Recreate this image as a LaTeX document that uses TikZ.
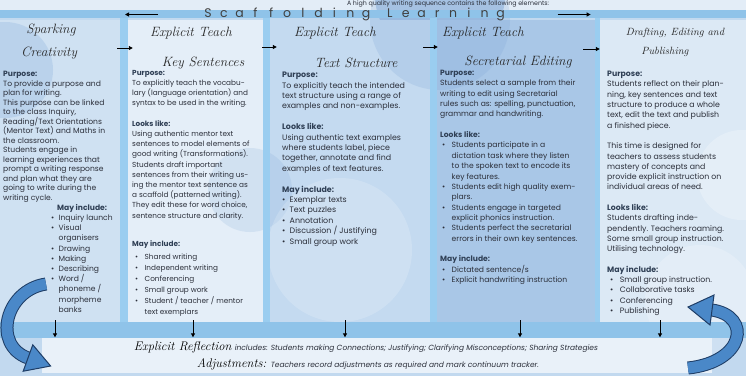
\documentclass[tikz,border=0pt]{standalone}
\usepackage{fontspec}
\setsansfont{Poppins}
\usetikzlibrary{arrows.meta}
\definecolor{bgA}{HTML}{C2D9EF}
\definecolor{bgB}{HTML}{7FA7D6}
\definecolor{colA}{HTML}{CFE1F2}
\definecolor{colB}{HTML}{E4EEF8}
\definecolor{colC}{HTML}{C4DAF0}
\definecolor{colD}{HTML}{A9C7E7}
\definecolor{colE}{HTML}{DCE9F5}
\definecolor{strip}{HTML}{9ACDF0}
\definecolor{band}{HTML}{8FC3E9}
\definecolor{boxw}{HTML}{E9F1F9}
\definecolor{txt}{HTML}{2B2F3A}
\definecolor{hdr}{HTML}{2F3F55}
\definecolor{arB}{HTML}{4A88C8}
\definecolor{arD}{HTML}{1E3D66}
\newcommand\bl[1][0pt]{\hspace*{#1}\makebox[7.5pt][l]{\textbullet}}
\newcommand\bi[1][0pt]{\hspace*{\dimexpr #1+7.5pt\relax}}
\newcommand\hd[1]{\textbf{\color{hdr}#1}}
\newcommand\ttlf{\rmfamily\itshape}
\newcommand\ls[1]{\makebox[15.8pt]{#1}}
\begin{document}
\begin{tikzpicture}[x=1pt,y=-1pt,
  colbox/.style={draw=none, inner sep=0pt, minimum height=303pt},
  body/.style={anchor=north west, align=left, inner sep=0pt, text=txt},
  ttl/.style={font=\ttlf\fontsize{13.5}{14}\selectfont, inner sep=0pt, text=black!85},
  flow/.style={-{Triangle[length=4pt,width=4pt]}, line width=1pt, black},
]
\useasboundingbox (0,0) rectangle (746,376);
\fill[bgA] (0,0) rectangle (746,376);
\fill[white, opacity=.55] (0,0) rectangle (746,10);
\fill[bgB, opacity=.5] (440,-5) circle (65);
% columns
\node[colbox, fill=colA, minimum width=120pt] (c1) at (60,171.5) {};
\node[colbox, fill=colB, minimum width=135pt] (c2) at (195.5,171.5) {};
\node[colbox, fill=colC, minimum width=160pt] (c3) at (350,171.5) {};
\node[colbox, fill=colD, minimum width=158pt] (c4) at (516,171.5) {};
\node[colbox, fill=colE, minimum width=146pt] (c5) at (673,171.5) {};
% washes
\begin{scope}
\clip (0,20) rectangle (120,323);
\fill[colD, opacity=.55] (5,70) circle (48);
\end{scope}
\fill[bgB, opacity=.18] (250,190) circle (42);
\fill[white, opacity=.18] (340,250) circle (72);
\fill[bgB, opacity=.22] (440,20) circle (70);
\fill[white, opacity=.25] (742,175) circle (45);
\fill[white, opacity=.2] (700,300) circle (55);
% strips and bands
\fill[strip] (120,18) rectangle (128,330);
\fill[strip] (263,18) rectangle (270,330);
\fill[strip] (430,18) rectangle (437,330);
\fill[strip] (595,18) rectangle (600,330);
\fill[band] (0,10) rectangle (746,18);
\fill[band] (0,322) rectangle (746,338);
% top texts
\node[font=\sffamily\fontsize{6.3}{7}\selectfont, text=txt, inner sep=0pt] (sub) at (448,4.3) {A high quality writing sequence contains the following elements:};
\node[anchor=west, inner sep=0pt, font=\sffamily\fontsize{12.5}{12}\selectfont, text=black!75] (scaf) at (200,14.5)
 {\ls{S}\ls{c}\ls{a}\ls{f}\ls{f}\ls{o}\ls{l}\ls{d}\ls{i}\ls{n}\ls{g}\hspace{8pt}\ls{L}\ls{e}\ls{a}\ls{r}\ls{n}\ls{i}\ls{n}\ls{g}};
\draw[flow] ([xshift=-42pt]scaf.west) -- ([xshift=-75pt]scaf.west);
\draw[flow] ([xshift=49pt]scaf.east) -- ([xshift=82pt]scaf.east);
% titles
\node[ttl] (h1a) at (51,30) {Sparking};
\node[ttl] (h1b) at (49,53) {Creativity};
\node[ttl] (h2a) at (191,33) {Explicit Teach};
\node[ttl] (h2b) at (203,63) {Key Sentences};
\node[ttl] (h3a) at (335,33) {Explicit Teach};
\node[ttl] (h3b) at (356,63) {Text Structure};
\node[ttl] (h4a) at (483,33) {Explicit Teach};
\node[ttl] (h4b) at (518,62) {Secretarial Editing};
\node[ttl, font=\ttlf\fontsize{10.5}{12}\selectfont] (h5a) at (675,33) {Drafting, Editing and};
\node[ttl, font=\ttlf\fontsize{10.5}{12}\selectfont] (h5b) at (665,52) {Publishing};
% column arrows
\coordinate (ay) at (0,48);
\coordinate (ay2) at (0,47);
\coordinate (ay3) at (0,49);
\draw[flow] ([xshift=-3pt]c1.east |- ay) -- ([xshift=5pt]c2.west |- ay);
\draw[flow] ([xshift=-1pt]c2.east |- ay2) -- ([xshift=7pt]c3.west |- ay2);
\draw[flow] ([xshift=-7pt]c3.east |- ay2) -- ([xshift=1pt]c4.west |- ay2);
\draw[flow] ([xshift=-12pt]c4.east |- ay3) -- ([xshift=0pt]c5.west |- ay3);
% column 1
\node[body, font=\sffamily\fontsize{7.6}{9.5}\selectfont] (t1) at (3,71)
 {\hd{Purpose:}\\To provide a purpose and\\plan for writing.\\This purpose can be linked\\to the class Inquiry,\\Reading/Text Orientations\\(Mentor Text) and Maths in\\the classroom.\\Students engage in\\learning experiences that\\prompt a writing response\\and plan what they are\\going to write during the\\writing cycle.};
\node[body, font=\sffamily\fontsize{7.6}{10.2}\selectfont] (l1) at (51,204)
 {\hspace*{6pt}\hd{May include:}\\\bl Inquiry launch\\\bl Visual\\\bi organisers\\\bl Drawing\\\bl Making\\\bl Describing\\\bl Word /\\\bi phoneme /\\\bi morpheme\\\bi banks};
% column 2
\node[body, font=\sffamily\fontsize{7.3}{10.2}\selectfont] (t2) at (132,70)
 {\hd{Purpose:}\\To explicitly teach the vocabu-\\lary (language orientation) and\\syntax to be used in the writing.\\[10.2pt]\hd{Looks like:}\\Using authentic mentor text\\sentences to model elements of\\good writing (Transformations).\\Students draft important\\sentences from their writing us-\\ing the mentor text sentence as\\a scaffold (patterned writing).\\They edit these for word choice,\\sentence structure and clarity.};
\node[body, font=\sffamily\fontsize{7.3}{11}\selectfont] (l2) at (132,240)
 {\hd{May include:}\\[2pt]\bl[3pt] Shared writing\\\bl[3pt] Independent writing\\\bl[3pt] Conferencing\\\bl[3pt] Small group work\\\bl[3pt] Student / teacher / mentor\\\bi[3pt] text exemplars};
% column 3
\node[body, font=\sffamily\fontsize{7.9}{10.4}\selectfont] (t3) at (282,72)
 {\hd{Purpose:}\\To explicitly teach the intended\\text structure using a range of\\examples and non-examples.\\[10.4pt]\hd{Looks like:}\\Using authentic text examples\\where students label, piece\\together, annotate and find\\examples of text features.\\[10.4pt]\hd{May include:}\\\bl Exemplar texts\\\bl Text puzzles\\\bl Annotation\\\bl Discussion / Justifying\\\bl Small group work};
% column 4
\node[body, font=\sffamily\fontsize{7.6}{10.35}\selectfont] (t4) at (440,70)
 {\hd{Purpose:}\\Students select a sample from their\\writing to edit using Secretarial\\rules such as: spelling, punctuation,\\grammar and handwriting.\\[10.35pt]\hd{Looks like:}\\\bl[2pt] Students participate in a\\\bi[2pt] dictation task where they listen\\\bi[2pt] to the spoken text to encode its\\\bi[2pt] key features.\\\bl[2pt] Students edit high quality exem-\\\bi[2pt] plars.\\\bl[2pt] Students engage in targeted\\\bi[2pt] explicit phonics instruction.\\\bl[2pt] Students perfect the secretarial\\\bi[2pt] errors in their own key sentences.\\[10.35pt]\hd{May include:}\\\bl[2pt] Dictated sentence/s\\\bl[2pt] Explicit handwriting instruction};
% column 5
\node[body, font=\sffamily\fontsize{7.8}{10.3}\selectfont] (t5) at (607,71)
 {\hd{Purpose:}\\Students reflect on their plan-\\ning, key sentences and text\\structure to produce a whole\\text, edit the text and publish\\a finished piece.\\[10.3pt]This time is designed for\\teachers to assess students\\mastery of concepts and\\provide explicit instruction on\\individual areas of need.\\[10.3pt]\hd{Looks like:}\\Students drafting inde-\\pendently. Teachers roaming.\\Some small group instruction.\\Utilising technology.\\[10.3pt]\hd{May include:}\\\bl[3pt] Small group instruction.\\\bl[3pt] Collaborative tasks\\\bl[3pt] Conferencing\\\bl[3pt] Publishing};
% bottom box
\node[fill=boxw, minimum width=670pt, minimum height=35pt, inner sep=0pt] (refl) at (377,355) {};
\node[inner sep=0pt, text=txt] (r1) at (366,347)
 {{\ttlf\fontsize{12.5}{12}\selectfont\color{black}Explicit Reflection} {\sffamily\itshape\fontsize{7.5}{7}\selectfont includes: Students making Connections; Justifying; Clarifying Misconceptions; Sharing Strategies}};
\node[inner sep=0pt, text=txt] (r2) at (368,364)
 {{\ttlf\fontsize{12.5}{12}\selectfont\color{black}Adjustments:} {\sffamily\itshape\fontsize{7.5}{7}\selectfont Teachers record adjustments as required and mark continuum tracker.}};
% down arrows
\draw[flow] ([xshift=-5pt,yshift=3pt]c1.south) -- ([xshift=-5pt]c1.south |- refl.north);
\draw[flow] ([xshift=-2.5pt,yshift=3pt]c2.south) -- ([xshift=-2.5pt]c2.south |- refl.north);
\draw[flow] ([xshift=-5pt,yshift=3pt]c3.south) -- ([xshift=-5pt]c3.south |- refl.north);
\draw[flow] ([xshift=4pt,yshift=3pt]c4.south) -- ([xshift=4pt]c4.south |- refl.north);
\draw[flow] ([xshift=-13pt,yshift=3pt]c5.south) -- ([xshift=-13pt]c5.south |- refl.north);
% curved arrows
\draw[arD, line width=13pt] (46,284) .. controls (5,290) and (-8,345) .. (28,358);
\draw[arB, line width=11pt] (46,284) .. controls (5,290) and (-8,345) .. (28,358);
\filldraw[fill=arB, draw=arD, line width=1pt] (32.8,344.8) -- (50.6,366) -- (23.2,371.2) -- cycle;
\draw[arD, line width=13pt] (688,368) .. controls (745,362) and (752,316) .. (712,310);
\draw[arB, line width=11pt] (688,368) .. controls (745,362) and (752,316) .. (712,310);
\filldraw[fill=arB, draw=arD, line width=1pt] (714,295) -- (688,307) -- (710,325) -- cycle;
\end{tikzpicture}
\end{document}
